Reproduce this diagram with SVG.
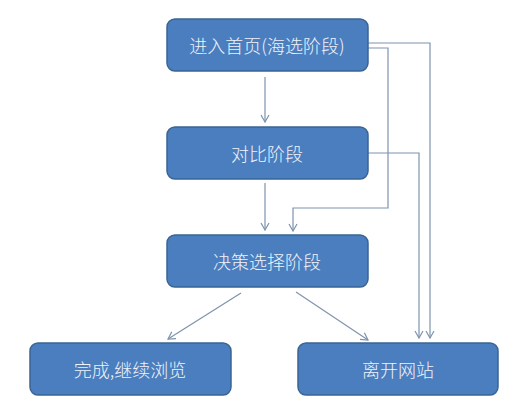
<svg xmlns="http://www.w3.org/2000/svg" width="515" height="411" viewBox="0 0 515 411">
<defs>
<style>
.box{fill:#4a7ebf;stroke:#3a6494;stroke-width:1.5}
.lbl{font-family:"Noto Sans CJK SC","Liberation Sans",sans-serif;font-size:18px;font-weight:300;fill:#eef3fa;text-anchor:middle;dominant-baseline:central}
.ln{fill:none;stroke:#7d93ad;stroke-width:1.2;marker-end:url(#ah)}
</style>
<marker id="ah" markerWidth="10" markerHeight="10" refX="8" refY="5" orient="auto" markerUnits="userSpaceOnUse">
<path d="M1,1 L8,5 L1,9" fill="none" stroke="#7d93ad" stroke-width="1.2"/>
</marker>
</defs>
<rect width="515" height="411" fill="#ffffff"/>
<g id="connectors">
<path class="ln" d="M265,77 L265,122"/>
<path class="ln" d="M265,183 L265,230"/>
<path class="ln" d="M368,48 L388,48 L388,208 L293,208 L293,231"/>
<path class="ln" d="M368,43 L430,43 L430,338"/>
<path class="ln" d="M368,153 L419,153 L419,338"/>
<path class="ln" d="M241,293 L168,339"/>
<path class="ln" d="M296,292 L368,340"/>
</g>
<g id="n1"><rect class="box" x="167" y="19" width="201" height="52" rx="8"/><text class="lbl" x="267" y="45">进入首页(海选阶段)</text></g>
<g id="n2"><rect class="box" x="167" y="127" width="201" height="52" rx="8"/><text class="lbl" x="267" y="153">对比阶段</text></g>
<g id="n3"><rect class="box" x="167" y="235" width="201" height="52" rx="8"/><text class="lbl" x="267" y="261">决策选择阶段</text></g>
<g id="n4"><rect class="box" x="30" y="343" width="201" height="52" rx="8"/><text class="lbl" x="130" y="369">完成,继续浏览</text></g>
<g id="n5"><rect class="box" x="298" y="343" width="200" height="52" rx="8"/><text class="lbl" x="398" y="369">离开网站</text></g>
</svg>
